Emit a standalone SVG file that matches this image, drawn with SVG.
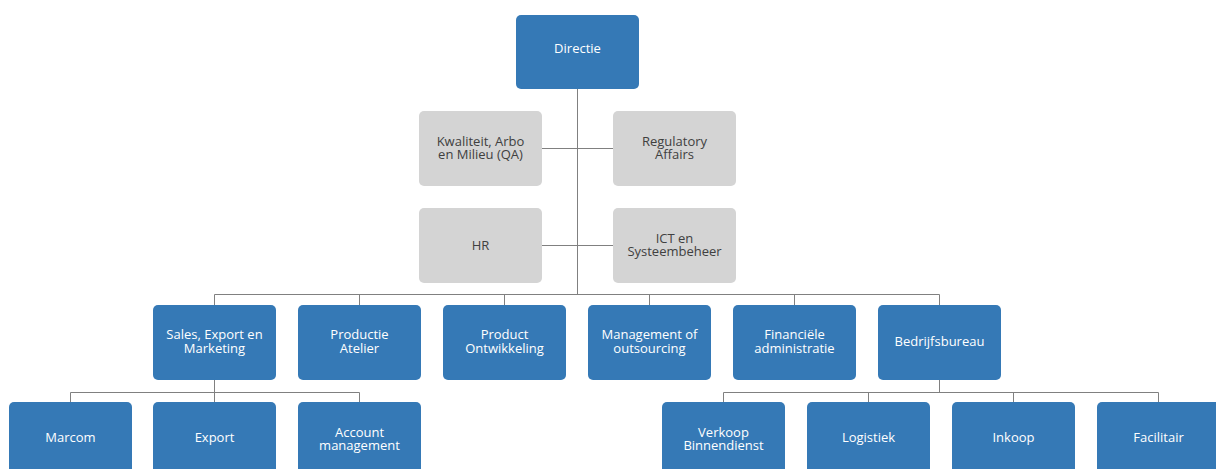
<svg xmlns="http://www.w3.org/2000/svg" width="1216" height="469" viewBox="0 0 1216 469">
<style>
.b{fill:#3579b6}
.g{fill:#d4d4d4}
.bt{fill:#ffffff;font-family:"Open Sans","Noto Sans",sans-serif;font-size:13px;text-anchor:middle}
.gt{fill:#404040;font-family:"Open Sans","Noto Sans",sans-serif;font-size:13px;text-anchor:middle}
.c{stroke:#808080;stroke-width:1;fill:none}
</style>
<rect width="1216" height="469" fill="#ffffff"/>
<g id="connectors">
<path class="c" d="M577.5 89V294.5M542 148.5H613M542 245.5H613"/>
<path class="c" d="M214.5 294.5H939.5M214.5 294.5V305M359.5 294.5V305M504.5 294.5V305M649.5 294.5V305M794.5 294.5V305M939.5 294.5V305"/>
<path class="c" d="M214.5 380V392.5M70.5 392.5H359.5M70.5 392.5V402M214.5 392.5V402M359.5 392.5V402"/>
<path class="c" d="M939.5 380V392.5M723.5 392.5H1158.5M723.5 392.5V402M868.5 392.5V402M1013.5 392.5V402M1158.5 392.5V402"/>
</g>
<g id="directie"><rect class="b" x="516" y="15" width="123" height="74" rx="5"/><text class="bt" x="577.5" y="53">Directie</text></g>
<g id="kwaliteit"><rect class="g" x="419" y="111" width="123" height="75" rx="5"/><text class="gt" x="480.5" y="145.5">Kwaliteit, Arbo</text><text class="gt" x="480.5" y="158.5">en Milieu (QA)</text></g>
<g id="regulatory"><rect class="g" x="613" y="111" width="123" height="75" rx="5"/><text class="gt" x="674.5" y="145.5">Regulatory</text><text class="gt" x="674.5" y="158.5">Affairs</text></g>
<g id="hr"><rect class="g" x="419" y="208" width="123" height="75" rx="5"/><text class="gt" x="480.5" y="249.5">HR</text></g>
<g id="ict"><rect class="g" x="613" y="208" width="123" height="75" rx="5"/><text class="gt" x="674.5" y="242.5">ICT en</text><text class="gt" x="674.5" y="255.5">Systeembeheer</text></g>
<g id="sales"><rect class="b" x="153" y="305" width="123" height="75" rx="5"/><text class="bt" x="214.5" y="338.5">Sales, Export en</text><text class="bt" x="214.5" y="352.5">Marketing</text></g>
<g id="productie"><rect class="b" x="298" y="305" width="123" height="75" rx="5"/><text class="bt" x="359.5" y="338.5">Productie</text><text class="bt" x="359.5" y="352.5">Atelier</text></g>
<g id="product"><rect class="b" x="443" y="305" width="123" height="75" rx="5"/><text class="bt" x="504.5" y="338.5">Product</text><text class="bt" x="504.5" y="352.5">Ontwikkeling</text></g>
<g id="management"><rect class="b" x="588" y="305" width="123" height="75" rx="5"/><text class="bt" x="649.5" y="338.5">Management of</text><text class="bt" x="649.5" y="352.5">outsourcing</text></g>
<g id="financiele"><rect class="b" x="733" y="305" width="123" height="75" rx="5"/><text class="bt" x="794.5" y="338.5">Financiële</text><text class="bt" x="794.5" y="352.5">administratie</text></g>
<g id="bedrijfsbureau"><rect class="b" x="878" y="305" width="123" height="75" rx="5"/><text class="bt" x="939.5" y="345.5">Bedrijfsbureau</text></g>
<g id="marcom"><rect class="b" x="9" y="402" width="123" height="75" rx="5"/><text class="bt" x="70.5" y="441.5">Marcom</text></g>
<g id="export"><rect class="b" x="153" y="402" width="123" height="75" rx="5"/><text class="bt" x="214.5" y="441.5">Export</text></g>
<g id="account"><rect class="b" x="298" y="402" width="123" height="75" rx="5"/><text class="bt" x="359.5" y="436.5">Account</text><text class="bt" x="359.5" y="449.5">management</text></g>
<g id="verkoop"><rect class="b" x="662" y="402" width="123" height="75" rx="5"/><text class="bt" x="723.5" y="436.5">Verkoop</text><text class="bt" x="723.5" y="449.5">Binnendienst</text></g>
<g id="logistiek"><rect class="b" x="807" y="402" width="123" height="75" rx="5"/><text class="bt" x="868.5" y="441.5">Logistiek</text></g>
<g id="inkoop"><rect class="b" x="952" y="402" width="123" height="75" rx="5"/><text class="bt" x="1013.5" y="441.5">Inkoop</text></g>
<g id="facilitair"><rect class="b" x="1097" y="402" width="123" height="75" rx="5"/><text class="bt" x="1158.5" y="441.5">Facilitair</text></g>
</svg>
